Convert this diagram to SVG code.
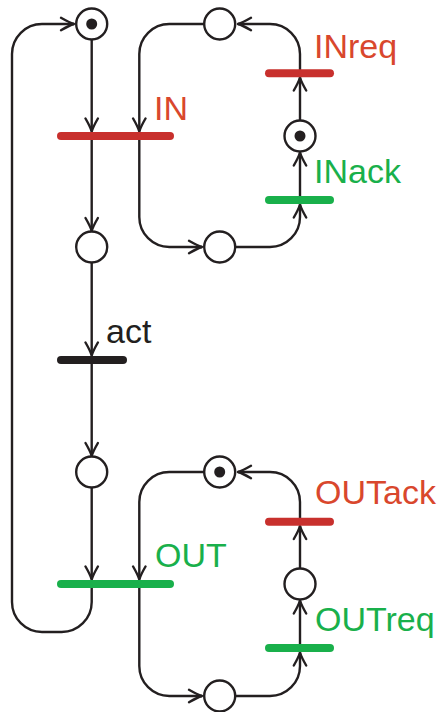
<svg xmlns="http://www.w3.org/2000/svg" width="439" height="712" viewBox="0 0 439 712">
<style>
.arc{fill:none;stroke:#231f20;stroke-width:2.4;stroke-linejoin:round}
.arr{marker-end:url(#ah)}
.place{fill:#fff;stroke:#231f20;stroke-width:2.4}
.tok{fill:#231f20}
.bar{stroke-width:8;stroke-linecap:round}
.red{stroke:#c8302d}
.green{stroke:#19b04b}
.black{stroke:#231f20}
.lbl{font-family:"Liberation Sans",Arial,sans-serif;font-size:34px}
.tred{fill:#d9472d}
.tgreen{fill:#19b04b}
.tblack{fill:#231f20}
</style>
<defs>
<marker id="ah" viewBox="-15 -9 17 18" refX="0" refY="0" markerWidth="17" markerHeight="18" markerUnits="userSpaceOnUse" orient="auto">
<path d="M-13,-6.2 Q-4.5,-1.3 0,0 Q-4.5,1.3 -13,6.2" fill="none" stroke="#231f20" stroke-width="2.4" stroke-linecap="round" stroke-linejoin="round"/>
</marker>
</defs>
<g id="connectors">
<path class="arc arr" d="M91.7,39.5 V131.5"/>
<path class="arc arr" d="M91.7,136 V231"/>
<path class="arc arr" d="M91.7,262.5 V355.5"/>
<path class="arc arr" d="M91.7,360 V456"/>
<path class="arc arr" d="M91.7,487.5 V579.5"/>
<path class="arc arr" d="M91.7,584 V602 A30,30 0 0 1 61.7,632 H42 A30,30 0 0 1 12,602 V54 A30,30 0 0 1 42,24 H74"/>
<path class="arc arr" d="M204.2,24 H169.3 A30,30 0 0 0 139.3,54 V131.5"/>
<path class="arc arr" d="M139.3,136 V217 A30,30 0 0 0 169.3,247 H202"/>
<path class="arc arr" d="M235.2,247 H270 A30,30 0 0 0 300,217 V204.5"/>
<path class="arc arr" d="M300,200 V152.5"/>
<path class="arc arr" d="M300,120.5 V77.5"/>
<path class="arc arr" d="M300,73.3 V54 A30,30 0 0 0 270,24 H238"/>
<path class="arc arr" d="M204.2,472 H169.3 A30,30 0 0 0 139.3,502 V579.5"/>
<path class="arc arr" d="M139.3,584 V666 A30,30 0 0 0 169.3,696 H202"/>
<path class="arc arr" d="M235.2,696 H270 A30,30 0 0 0 300,666 V652.5"/>
<path class="arc arr" d="M300,648 V600.5"/>
<path class="arc arr" d="M300,568.5 V526"/>
<path class="arc arr" d="M300,521.7 V502 A30,30 0 0 0 270,472 H238"/>
</g>
<g id="P0"><circle class="place" cx="91.7" cy="24" r="15.5"/><circle class="tok" cx="91.7" cy="24" r="5.5"/></g>
<g id="P1"><circle class="place" cx="91.7" cy="247" r="15.5"/></g>
<g id="P2"><circle class="place" cx="91.7" cy="472" r="15.5"/></g>
<g id="Pa"><circle class="place" cx="219.7" cy="24" r="15.5"/></g>
<g id="Pb"><circle class="place" cx="219.7" cy="247" r="15.5"/></g>
<g id="Pc"><circle class="place" cx="300" cy="136" r="15.5"/><circle class="tok" cx="300" cy="136" r="5.5"/></g>
<g id="Pd"><circle class="place" cx="219.7" cy="472" r="15.5"/><circle class="tok" cx="219.7" cy="472" r="5.5"/></g>
<g id="Pe"><circle class="place" cx="219.7" cy="696" r="15.5"/></g>
<g id="Pf"><circle class="place" cx="300" cy="584" r="15.5"/></g>
<g id="T_IN"><line class="bar red" x1="61" y1="136" x2="170" y2="136"/><text class="lbl tred" x="154" y="120">IN</text></g>
<g id="T_act"><line class="bar black" x1="61" y1="360" x2="123" y2="360"/><text class="lbl tblack" x="106" y="343">act</text></g>
<g id="T_OUT"><line class="bar green" x1="61" y1="584" x2="170" y2="584"/><text class="lbl tgreen" x="155" y="567">OUT</text></g>
<g id="T_INreq"><line class="bar red" x1="269" y1="73.3" x2="330" y2="73.3"/><text class="lbl tred" x="314" y="58">INreq</text></g>
<g id="T_INack"><line class="bar green" x1="269" y1="200" x2="330" y2="200"/><text class="lbl tgreen" x="314" y="183">INack</text></g>
<g id="T_OUTack"><line class="bar red" x1="269" y1="521.7" x2="330" y2="521.7"/><text class="lbl tred" x="315" y="504">OUTack</text></g>
<g id="T_OUTreq"><line class="bar green" x1="269" y1="648" x2="330" y2="648"/><text class="lbl tgreen" x="315" y="631">OUTreq</text></g>
</svg>
